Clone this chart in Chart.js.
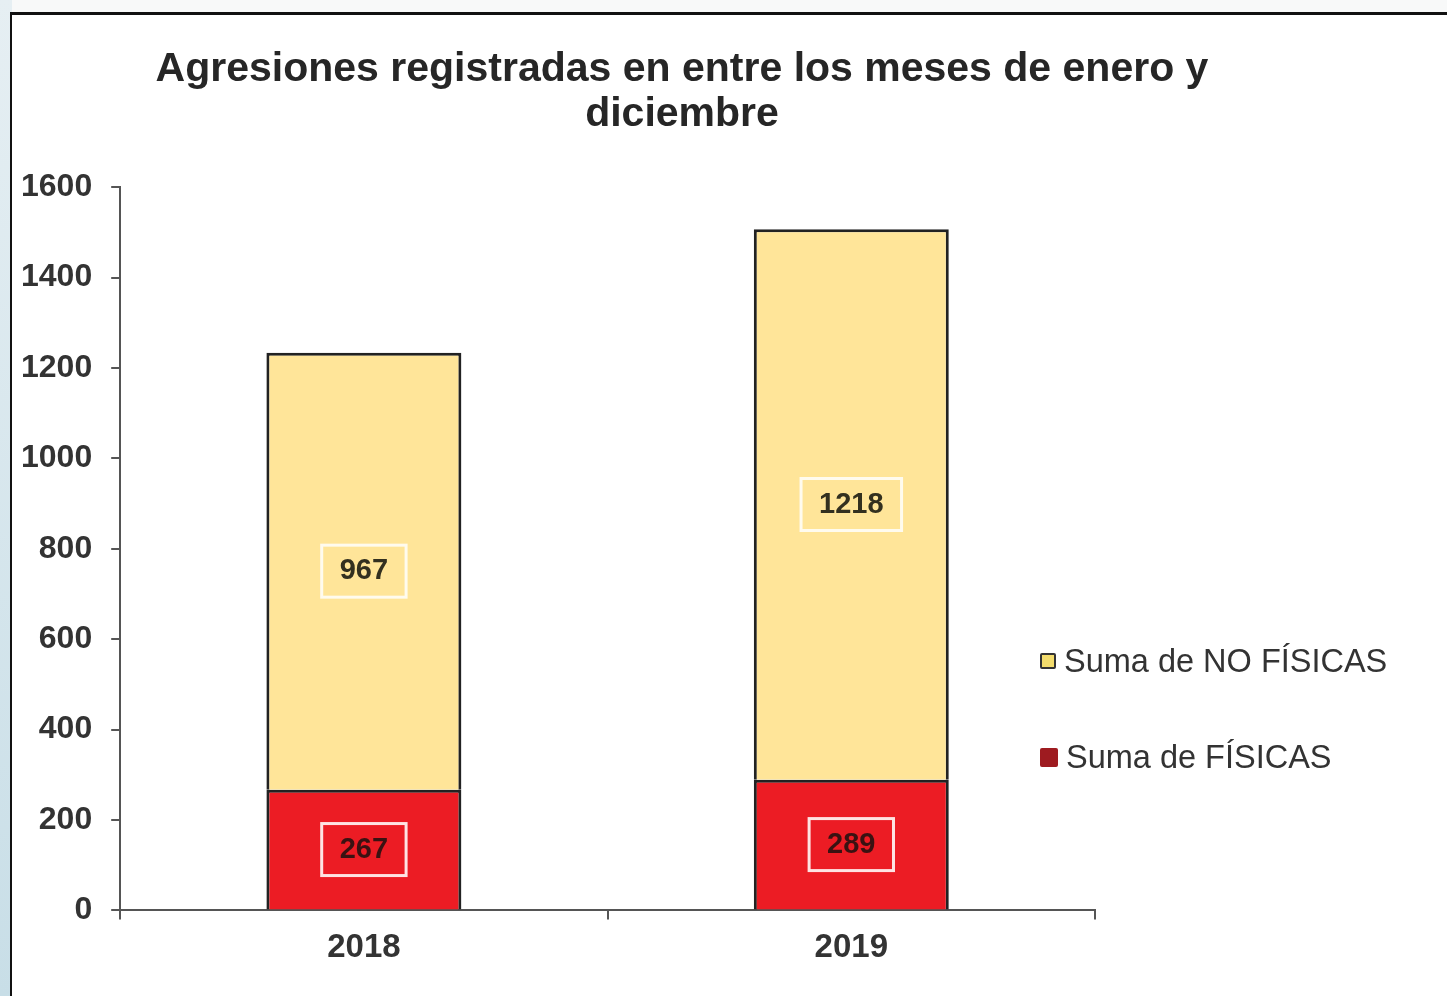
<!DOCTYPE html>
<html>
<head>
<meta charset="utf-8">
<script src="https://cdn.jsdelivr.net/npm/chart.js@4.4.1/dist/chart.umd.min.js"></script>
<style>
  body { margin: 0; width: 1447px; height: 996px; background: #f8f9f9; overflow: hidden; position: relative; font-family: 'Liberation Sans', Arial, sans-serif; }
  .strip { position: absolute; left: 0; top: 0; width: 12px; height: 996px; background: linear-gradient(#e6eff3, #c8dee7); }
  .frame { position: absolute; left: 10px; top: 12px; width: 1437px; height: 984px; border-top: 3px solid #111; border-left: 2px solid #111; background: #fff; box-sizing: border-box; }
  .chart-box { position: absolute; left: 2px; top: 15px; width: 1360px; height: 981px; }
  #legend { position: absolute; left: 1040px; top: 643px; display: flex; flex-direction: column; gap: 60px; }
  #legend div { display: flex; align-items: center; height: 36px; font-size: 32.5px; color: #333; white-space: nowrap; }
  #legend span { display: inline-block; width: 16px; height: 16px; margin-right: 8px; box-sizing: border-box; border-radius: 2px; }
</style>
</head>
<body>
<div class="strip"></div>
<div class="frame"></div>
<div class="chart-box"><canvas id="chart"></canvas></div>
<div id="legend"></div>
<script>
const years = ['2018', '2019'];
const fisicas = [267, 289];
const noFisicas = [967, 1218];
const seriesNames = ['Suma de FÍSICAS', 'Suma de NO FÍSICAS'];
const titleLines = ['Agresiones registradas en entre los meses de enero y', 'diciembre'];

const font = "'Liberation Sans', Arial, sans-serif";

const boxedLabels = {
  id: 'boxedLabels',
  afterDatasetsDraw(chart) {
    const { ctx } = chart;
    chart.data.datasets.forEach((ds, i) => {
      const meta = chart.getDatasetMeta(i);
      meta.data.forEach((bar, j) => {
        const { x, y, base } = bar.getProps(['x', 'y', 'base'], true);
        const cy = (y + base) / 2;
        const text = String(ds.data[j]);
        ctx.save();
        ctx.font = `bold 29px ${font}`;
        const w = ctx.measureText(text).width + 36;
        const h = 52;
        ctx.strokeStyle = ds.labelBorder;
        ctx.lineWidth = 3;
        ctx.strokeRect(x - w / 2, cy - h / 2, w, h);
        ctx.fillStyle = ds.labelColor;
        ctx.textAlign = 'center';
        ctx.textBaseline = 'middle';
        ctx.fillText(text, x, cy);
        ctx.restore();
      });
    });
  },
};

const ctx = document.getElementById('chart').getContext('2d');
const chart = new Chart(ctx, {
  type: 'bar',
  data: {
    labels: years,
    datasets: [
      {
        label: seriesNames[0],
        data: fisicas,
        backgroundColor: '#ec1c24',
        borderColor: '#222',
        borderWidth: 3,
        labelColor: '#3a1212',
        labelBorder: 'rgba(255,238,238,0.95)',
        legendColor: '#9e1b20',
        categoryPercentage: 0.8,
        barPercentage: 0.5,
      },
      {
        label: seriesNames[1],
        data: noFisicas,
        backgroundColor: '#ffe599',
        borderColor: '#222',
        borderWidth: 3,
        labelColor: '#33301f',
        labelBorder: 'rgba(255,251,238,1)',
        legendColor: '#f3dc6c',
        categoryPercentage: 0.8,
        barPercentage: 0.5,
      },
    ],
  },
  options: {
    responsive: true,
    maintainAspectRatio: false,
    animation: false,
    layout: { padding: { left: 0, right: 0, top: 0, bottom: 19 } },
    plugins: {
      legend: { display: false },
      tooltip: { enabled: false },
      title: {
        display: true,
        text: titleLines,
        color: '#262626',
        font: { family: font, size: 41, weight: 'bold', lineHeight: 1.1 },
        padding: { top: 32.5, bottom: 49.5 },
      },
    },
    scales: {
      x: {
        stacked: true,
        grid: { drawOnChartArea: false, tickLength: 9, color: '#555', lineWidth: 2 },
        border: { color: '#555', width: 2 },
        ticks: { color: '#333', padding: 9, font: { family: font, size: 33, weight: 'bold' } },
      },
      y: {
        stacked: true,
        min: 0,
        max: 1600,
        grid: { drawOnChartArea: false, tickLength: 9, color: '#555', lineWidth: 2 },
        border: { color: '#555', width: 2 },
        ticks: {
          stepSize: 200,
          color: '#333',
          padding: 19,
          font: { family: font, size: 32, weight: 'bold' },
          callback: (v) => String(v),
        },
      },
      pad: {
        type: 'linear',
        position: 'right',
        grid: { display: false },
        border: { display: false },
        ticks: { display: false },
        afterFit(scale) { scale.width = 267; },
      },
    },
  },
  plugins: [boxedLabels],
});

// legend, top entry first like the original
const legendEl = document.getElementById('legend');
chart.data.datasets.slice().reverse().forEach((ds) => {
  const item = document.createElement('div');
  const sw = document.createElement('span');
  sw.style.background = ds.legendColor;
  if (ds.legendColor === '#f3dc6c') sw.style.border = '2px solid #333';
  else { sw.style.width = '18px'; sw.style.height = '19px'; }
  item.appendChild(sw);
  item.appendChild(document.createTextNode(ds.label));
  legendEl.appendChild(item);
});
</script>
</body>
</html>
